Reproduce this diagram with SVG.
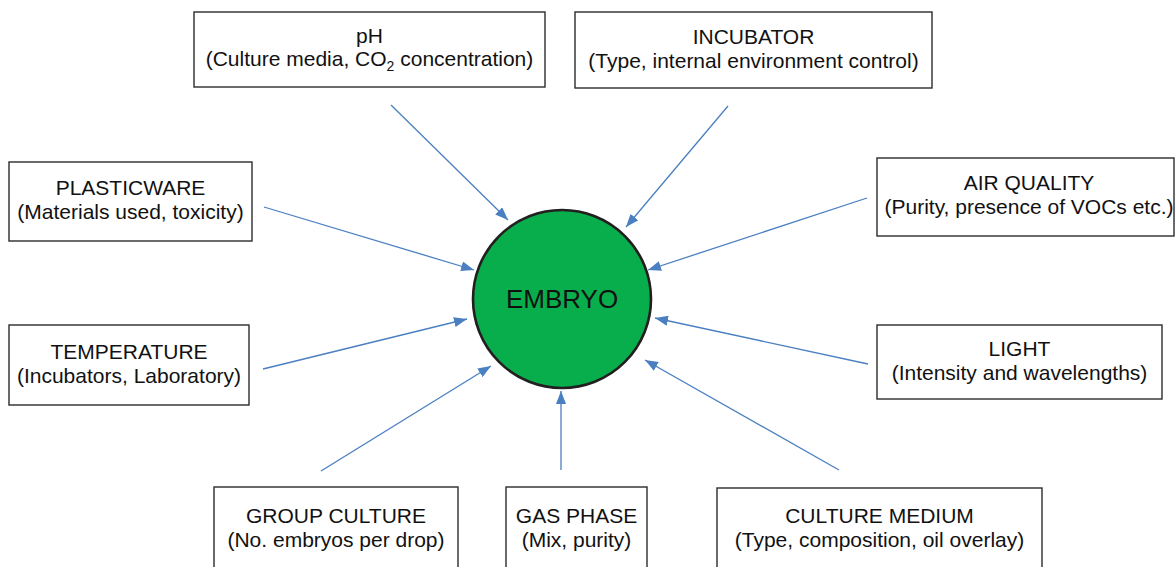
<svg xmlns="http://www.w3.org/2000/svg" width="1175" height="567" viewBox="0 0 1175 567">
<style>
.box{fill:#fff;stroke:#2b2b2b;stroke-width:1.4}
.t{font-family:"Liberation Sans",Arial,sans-serif;font-size:21px;fill:#111;text-anchor:middle}
.c{stroke:#4a7fc1;stroke-width:1.3;fill:none;marker-end:url(#ah)}
</style>
<defs>
<marker id="ah" markerUnits="userSpaceOnUse" markerWidth="14" markerHeight="10" refX="13" refY="5" orient="auto">
<path d="M0,0 L13,5 L0,10 Z" fill="#4a7fc1"/>
</marker>
</defs>
<rect width="1175" height="567" fill="#fff"/>
<g id="connectors">
<line class="c" x1="391" y1="105" x2="508" y2="220"/>
<line class="c" x1="728" y1="106" x2="626" y2="227"/>
<line class="c" x1="264" y1="207" x2="474" y2="270"/>
<line class="c" x1="867" y1="198" x2="648" y2="270"/>
<line class="c" x1="263" y1="369" x2="467" y2="319"/>
<line class="c" x1="868" y1="364" x2="655" y2="318"/>
<line class="c" x1="321" y1="471" x2="491" y2="366"/>
<line class="c" x1="561" y1="470" x2="561" y2="391"/>
<line class="c" x1="839" y1="470" x2="645" y2="360"/>
</g>
<g id="embryo">
<circle cx="562" cy="299" r="89" fill="#08ae4c" stroke="#231f20" stroke-width="2.6"/>
<text class="t" x="562" y="308" style="font-size:26px">EMBRYO</text>
</g>
<g id="ph">
<rect class="box" x="194" y="12" width="351" height="75"/>
<text class="t" x="369.5" y="43">pH</text>
<text class="t" x="369.5" y="66">(Culture media, CO<tspan style="font-size:14px" dy="5">2</tspan><tspan dy="-5"> concentration)</tspan></text>
</g>
<g id="incubator">
<rect class="box" x="575" y="12" width="357" height="76"/>
<text class="t" x="753.5" y="44">INCUBATOR</text>
<text class="t" x="753.5" y="68">(Type, internal environment control)</text>
</g>
<g id="plasticware">
<rect class="box" x="9" y="162" width="243" height="79"/>
<text class="t" x="130.5" y="195">PLASTICWARE</text>
<text class="t" x="130.5" y="219">(Materials used, toxicity)</text>
</g>
<g id="airquality">
<rect class="box" x="877" y="158" width="297" height="78"/>
<text class="t" x="1029" y="190">AIR QUALITY</text>
<text class="t" x="1029" y="214">(Purity, presence of VOCs etc.)</text>
</g>
<g id="temperature">
<rect class="box" x="9" y="325" width="240" height="80"/>
<text class="t" x="129" y="359">TEMPERATURE</text>
<text class="t" x="129" y="383">(Incubators, Laboratory)</text>
</g>
<g id="light">
<rect class="box" x="877" y="325" width="285" height="74"/>
<text class="t" x="1019.5" y="356">LIGHT</text>
<text class="t" x="1019.5" y="380">(Intensity and wavelengths)</text>
</g>
<g id="groupculture">
<rect class="box" x="214" y="487" width="244" height="90"/>
<text class="t" x="336" y="523">GROUP CULTURE</text>
<text class="t" x="336" y="547">(No. embryos per drop)</text>
</g>
<g id="gasphase">
<rect class="box" x="506" y="487" width="141" height="90"/>
<text class="t" x="576.5" y="523">GAS PHASE</text>
<text class="t" x="576.5" y="547">(Mix, purity)</text>
</g>
<g id="culturemedium">
<rect class="box" x="717" y="488" width="325" height="90"/>
<text class="t" x="879.5" y="523">CULTURE MEDIUM</text>
<text class="t" x="879.5" y="547">(Type, composition, oil overlay)</text>
</g>
</svg>
